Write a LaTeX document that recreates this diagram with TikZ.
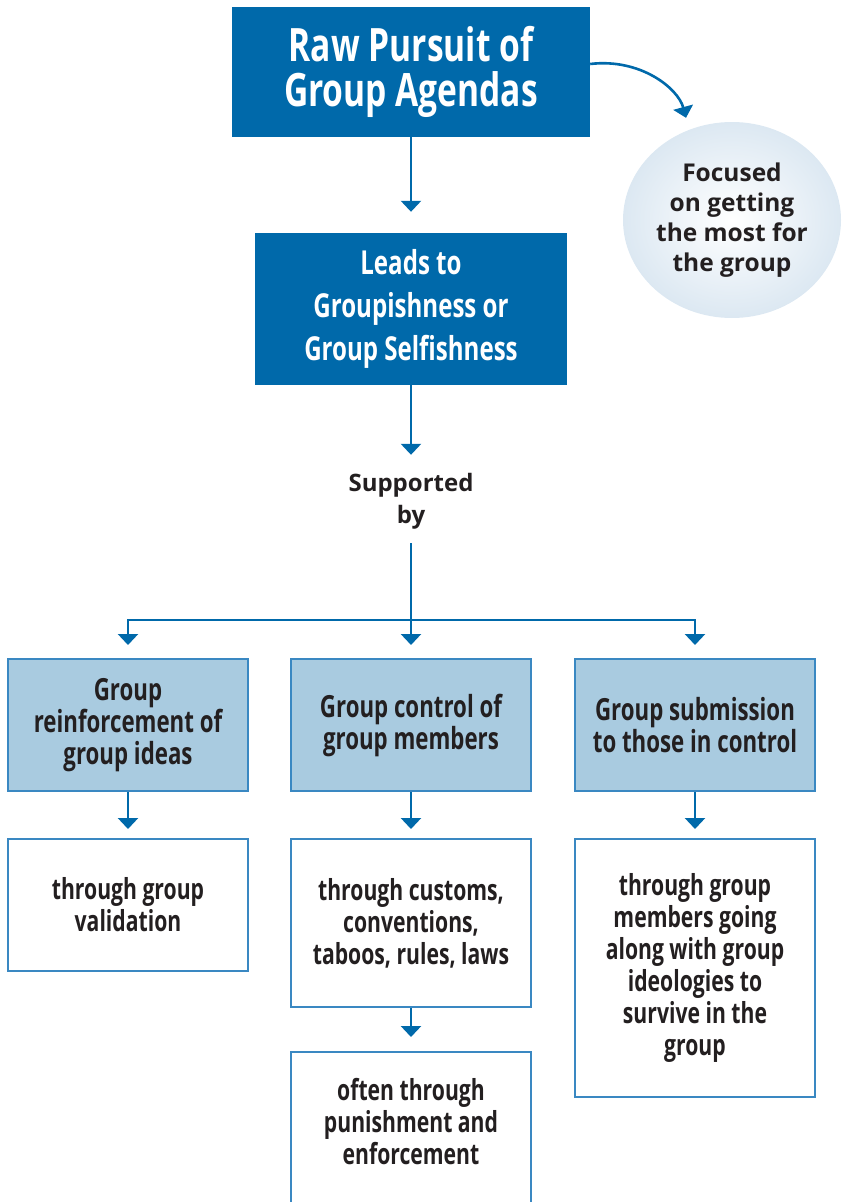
\documentclass[tikz,border=0pt]{standalone}
\usepackage{fontspec}
\setmainfont{Open Sans}
\newfontfamily\condbf[FakeStretch=0.73]{Open Sans}
\newfontfamily\plainbf{Open Sans}
\usetikzlibrary{arrows.meta,shapes.geometric}

\definecolor{deepblue}{HTML}{0069AA}
\definecolor{paleblue}{HTML}{A9CBE0}
\definecolor{edgeblue}{HTML}{3A88C2}
\definecolor{ink}{HTML}{231F20}
\definecolor{haze}{HTML}{DCE8F2}

\tikzset{
  headbox/.style={rectangle, fill=deepblue, text=white, align=center, inner sep=0pt},
  topicbox/.style={rectangle, fill=paleblue, draw=edgeblue, line width=2pt,
    text=ink, align=center, inner sep=0pt, minimum width=240pt, minimum height=132pt,
    font=\condbf\bfseries\fontsize{30.5}{32}\selectfont},
  notebox/.style={rectangle, fill=white, draw=edgeblue, line width=2pt,
    text=ink, align=center, inner sep=0pt, minimum width=240pt,
    font=\condbf\bfseries\fontsize{29}{32}\selectfont},
  link/.style={draw=deepblue, line width=2.6pt},
  flow/.style={link, -{Triangle[width=20pt,length=11pt]}},
}

\begin{document}
\begin{tikzpicture}[x=1pt,y=-1pt]
\useasboundingbox (0,0) rectangle (841,1202);
\clip (0,0) rectangle (841,1202);

% headline boxes
\node[headbox, minimum width=358pt, minimum height=130pt,
      font=\condbf\bfseries\fontsize{46}{45}\selectfont] (raw) at (411,72)
  {Raw Pursuit of\\Group Agendas};
\node[headbox, minimum width=312pt, minimum height=152pt,
      font=\condbf\bfseries\fontsize{33}{43}\selectfont] (leads) at (411,309)
  {Leads to\\Groupishness or\\Group Selfishness};

% side note
\node[ellipse, minimum width=218pt, minimum height=196pt, inner sep=0pt,
      shading=radial, inner color=white, outer color=haze,
      text=ink, align=center, font=\plainbf\bfseries\fontsize{24.5}{30}\selectfont]
  (focus) at (732,220) {Focused\\on getting\\the most for\\the group};

\node[text=ink, align=center, inner sep=0pt,
      font=\plainbf\bfseries\fontsize{24}{32}\selectfont] (sup) at (411,501)
  {Supported\\by};

% the three supports
\node[topicbox] (reinf) at (128,725) {Group\\reinforcement of\\group ideas};
\node[topicbox] (ctrl)  at (411,725) {Group control of\\group members};
\node[topicbox] (subm)  at (695,725) {Group submission\\to those in control};

% how each works
\node[notebox, minimum height=132pt] (valid) at (128,905)
  {through group\\validation};
\node[notebox, minimum height=168pt] (cust) at (411,923)
  {through customs,\\conventions,\\taboos, rules, laws};
\node[notebox, minimum height=258pt] (along) at (695,968)
  {through group\\members going\\along with group\\ideologies to\\survive in the\\group};
\node[notebox, minimum height=190pt, anchor=north] (pun) at (411,1051) {};
\node[text=ink, align=center, inner sep=0pt,
      font=\condbf\bfseries\fontsize{29}{32}\selectfont] (punt) at (411,1122)
  {often through\\punishment and\\enforcement};

% connectors
\draw[flow, shorten >=21pt] (raw) -- (leads);
\draw[flow] (raw.east |- 0,64) .. controls (640,58) and (678,88) .. ([xshift=-46pt,yshift=4pt]focus.north);
\draw[flow, shorten >=18pt] (leads) -- (sup);
\coordinate (fork) at (411,620);
\draw[link] ([yshift=-14pt]sup.south) -- (fork);
\draw[flow, shorten >=13pt] (fork) -| (reinf.north);
\draw[flow, shorten >=13pt] (fork) -- (ctrl.north);
\draw[flow, shorten >=13pt] (fork) -| (subm.north);
\draw[flow, shorten >=9pt] (reinf) -- (valid);
\draw[flow, shorten >=9pt] (ctrl) -- (cust);
\draw[flow, shorten >=9pt] (subm) -- (along);
\draw[flow, shorten >=14pt] (cust) -- (pun);
\end{tikzpicture}
\end{document}
